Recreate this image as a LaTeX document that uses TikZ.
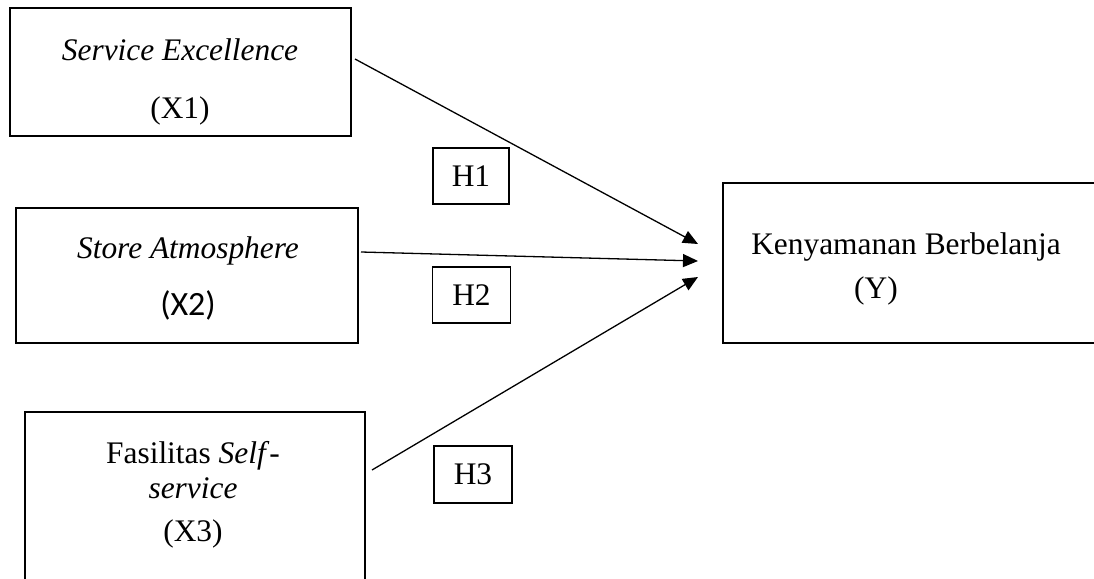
\documentclass[tikz,border=0pt]{standalone}
\usepackage{fontspec}
\setmainfont{Liberation Serif}
\newfontfamily\calib{Carlito}
\usetikzlibrary{arrows.meta}
\begin{document}
\begin{tikzpicture}[x=0.5pt,y=-0.5pt,
  bigbox/.style={draw, line width=1pt, inner sep=0pt},
  hbox/.style={draw, line width=0.6pt, inner sep=0pt, minimum width=38pt, minimum height=28pt},
  txt/.style={inner sep=0pt, anchor=base, font=\fontsize{15.7}{19}\selectfont},
  conn/.style={line width=0.65pt, -{Triangle[length=7.5pt,width=6.5pt]}}]
\useasboundingbox (0,0) rectangle (1094,579);
\clip (0,0) rectangle (1094,579);
% boxes
\node[bigbox, minimum width=170.5pt, minimum height=64pt] (x1) at (180.5,72) {};
\node[bigbox, minimum width=171pt, minimum height=67.5pt] (x2) at (187,275.5) {};
\node[bigbox, minimum width=170pt, minimum height=95pt] (x3) at (195,507) {};
\node[bigbox, minimum width=190pt, minimum height=80pt] (y) at (913,263) {};
% texts
\node[txt] (t1a) at (180,60) {\itshape Service Excellence};
\node[txt] (t1b) at (180,118) {(X1)};
\node[txt] (t2a) at (188,258) {\itshape Store Atmosphere};
\node[txt] (t2b) at (188,315) {\calib\fontsize{17}{20}\selectfont (X2)};
\node[txt] (t3a) at (193,463) {Fasilitas \textit{Self}-};
\node[txt] (t3b) at (193,498) {\itshape service};
\node[txt] (t3c) at (193,541) {(X3)};
\node[txt] (ya) at (906,254) {Kenyamanan Berbelanja};
\node[txt] (yb) at (876,298) {(Y)};
% hypothesis boxes
\node[hbox, minimum width=38pt, minimum height=28pt] (h1) at (471,176) {};
\node[txt] (h1t) at (471,186) {H1};
\node[hbox, minimum width=39pt, minimum height=28pt] (h2) at (471.5,295) {};
\node[txt] (h2t) at (471.5,305) {H2};
\node[hbox, minimum width=39pt, minimum height=28.5pt] (h3) at (473,474.5) {};
\node[txt] (h3t) at (473,484) {H3};
% connectors
\coordinate (s1) at (355,59);
\coordinate (s2) at (361,252);
\coordinate (s3) at (372,470);
\coordinate (e1) at (698,244);
\coordinate (e2) at (698,261);
\coordinate (e3) at (698,277);
\draw[conn] (s1) -- (e1);
\draw[conn] (s2) -- (e2);
\draw[conn] (s3) -- (e3);
\end{tikzpicture}
\end{document}
